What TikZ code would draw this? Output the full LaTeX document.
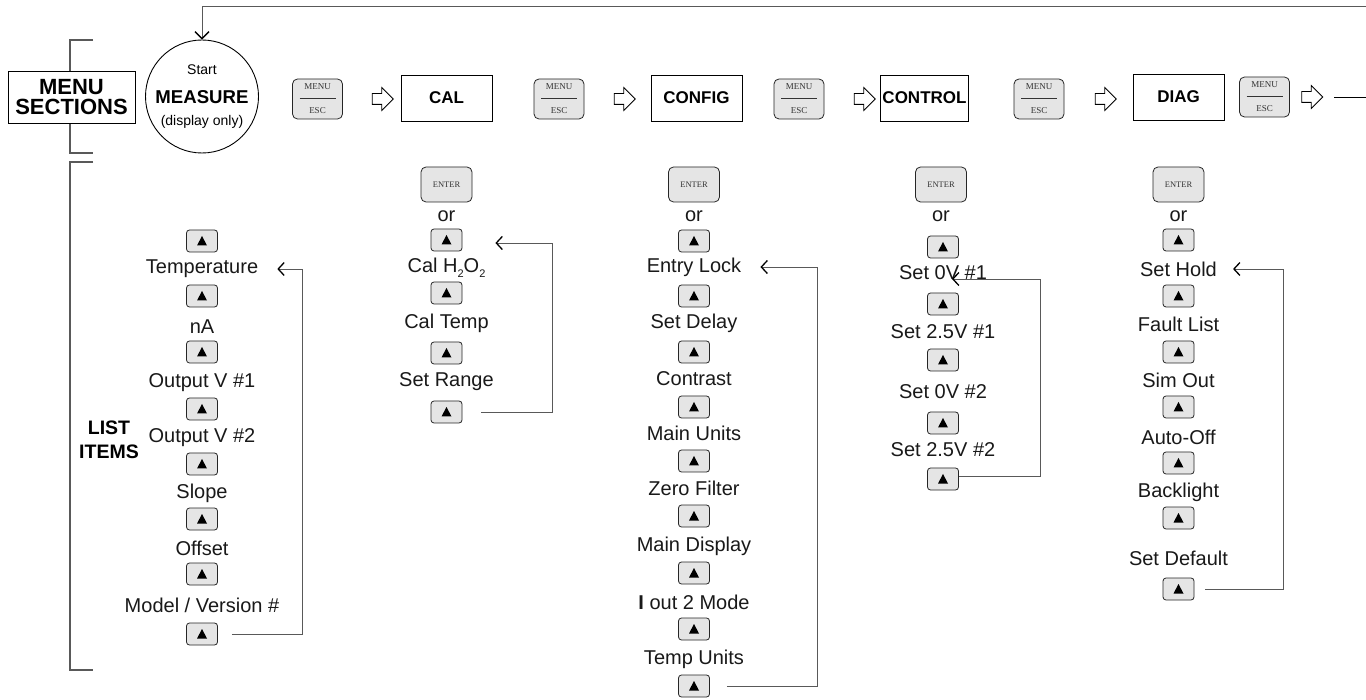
\documentclass[tikz,border=0pt]{standalone}
\usepackage{fontspec}
\setmainfont{Liberation Sans}
\newfontfamily\btnfont{Liberation Serif}
\usetikzlibrary{arrows.meta,shapes.arrows}
\newcommand\myfs[1]{\fontsize{#1}{#1}\selectfont}
\newcommand\mysub[1]{\raisebox{-0.45ex}{\myfs{11}#1}}
\begin{document}
\begin{tikzpicture}[x=1pt,y=-1pt,
  lbl/.style={font=\myfs{20}, text=black!90, inner sep=1pt},
  upb/.style={draw=black!85, fill=black!10, rounded corners=3pt, minimum width=31pt, minimum height=22pt, inner sep=0pt, line width=0.8pt,
    path picture={\fill[black,sharp corners] ([shift={(-5,4.5)}]path picture bounding box.center) -- ++(10,0) -- ++(-5,-9.5) -- cycle;}},
  entb/.style={draw=black!85, fill=black!10, rounded corners=5pt, minimum width=51pt, minimum height=35pt, inner sep=0pt, line width=0.8pt, font=\btnfont\myfs{8.5}, text=black!80},
  meb/.style={draw=black!85, fill=black!10, rounded corners=5pt, minimum width=50pt, minimum height=40pt, inner sep=0pt, line width=0.8pt, font=\btnfont\myfs{9}, text=black!80, align=center,
    path picture={\draw[black!80,line width=0.8pt,sharp corners] ([shift={(-18,-1)}]path picture bounding box.center) -- ([shift={(18,-1)}]path picture bounding box.center);}},
  sect/.style={draw=black, line width=0.9pt, minimum width=91pt, minimum height=46pt, inner sep=0pt, font=\bfseries\myfs{17}},
  harr/.style={single arrow, draw=black, line width=0.8pt, fill=white, inner sep=5pt, minimum height=21pt, single arrow head extend=6pt},
  loopl/.style={draw=black!65, line width=0.9pt},
  tipl/.style={-{Straight Barb[length=6pt,width=13pt,line width=1.3pt,color=black]}},
  brk/.style={draw=black!65, line width=1.2pt}
]
\fill[white] (0,0) rectangle (1366,700);
\useasboundingbox (0,0) rectangle (1366,700);

% brackets
\coordinate (b1a) at (93,40); \coordinate (b1b) at (70,40);
\coordinate (b1c) at (70,153); \coordinate (b1d) at (93,153);
\draw[brk] (b1a) -- (b1b) -- (b1c) -- (b1d);
\coordinate (b2a) at (93,162); \coordinate (b2b) at (70,162);
\coordinate (b2c) at (70,670); \coordinate (b2d) at (93,670);
\draw[brk] (b2a) -- (b2b) -- (b2c) -- (b2d);

\node[draw=black, line width=0.9pt, fill=white, minimum width=127pt, minimum height=52pt, inner sep=0pt, align=center, font=\bfseries\myfs{22}] (msec) at (71.5,97) {MENU\\[-2pt]SECTIONS};
\node[align=center, font=\bfseries\myfs{19.5}, inner sep=1pt] (litems) at (109,440) {LIST\\[4pt]ITEMS};

% measure circle
\node[circle, draw=black, line width=0.9pt, minimum size=113pt, inner sep=0pt] (meas) at (202,96.5) {};
\node[font=\myfs{14}, inner sep=0pt] (mstart) at (202,70) {Start};
\node[font=\bfseries\myfs{18.6}, inner sep=0pt] (mmeas) at (202,97) {MEASURE};
\node[font=\myfs{14}, inner sep=0pt] (mdisp) at (202,122) {(display only)};
\coordinate (topR) at (1366,6);
\draw[loopl, -{Straight Barb[length=7pt,width=14pt,line width=1.3pt,color=black]}] (topR) -| (meas.north);

% top row
\node[meb] (me1) at (317.5,99) {MENU\\[15pt]ESC};
\node[harr] (ar1) at (380,99) {};
\node[sect] (cal) at (446.5,98) {CAL};
\node[meb] (me2) at (559,99) {MENU\\[15pt]ESC};
\node[harr] (ar2) at (622,99) {};
\node[sect] (config) at (696.5,98) {CONFIG};
\node[meb] (me3) at (799,99) {MENU\\[15pt]ESC};
\node[harr] (ar3) at (862,99) {};
\node[sect, minimum width=88pt] (control) at (924.5,98) {CONTROL};
\node[meb] (me4) at (1039,99) {MENU\\[15pt]ESC};
\node[harr] (ar4) at (1103,99) {};
\node[sect] (diag) at (1178.5,97) {DIAG};
\node[meb] (me5) at (1264.5,97) {MENU\\[15pt]ESC};
\node[harr] (ar5) at (1309.5,97) {};
\coordinate (rEnd) at (1366,97);
\draw[black, line width=0.9pt] ([xshift=11pt]ar5.east) -- (rEnd);

% MEASURE list
\node[upb] (mu1) at (202,241) {};
\node[lbl] (mtemp) at (202,269) {Temperature};
\node[upb] (mu2) at (202,296) {};
\node[lbl] (mna) at (202,327) {nA};
\node[upb] (mu3) at (202,352) {};
\node[lbl] (mov1) at (202,383) {Output V \#1};
\node[upb] (mu4) at (202,409) {};
\node[lbl] (mov2) at (202,438) {Output V \#2};
\node[upb] (mu5) at (202,464) {};
\node[lbl] (mslope) at (202,493) {Slope};
\node[upb] (mu6) at (202,519) {};
\node[lbl] (moff) at (202,548) {Offset};
\node[upb] (mu7) at (202,574) {};
\node[lbl] (mmodel) at (202,605) {Model / Version \#};
\node[upb] (mu8) at (202,634) {};
\draw[loopl, tipl] ([xshift=14pt]mu8.east) -- ++(71,0) |- ([xshift=18pt]mtemp.east);

% CAL list
\node[entb] (ce) at (446.5,184.5) {ENTER};
\node[lbl] (cor) at (446.5,216) {or};
\node[upb] (cu1) at (446.5,240) {};
\node[lbl] (ch2o2) at (446.5,268) {Cal H\mysub{2}O\mysub{2}};
\node[upb] (cu2) at (446.5,293) {};
\node[lbl] (ctemp) at (446.5,323) {Cal Temp};
\node[upb] (cu3) at (446.5,353) {};
\node[lbl] (crange) at (446.5,382) {Set Range};
\node[upb] (cu4) at (446.5,412) {};
\draw[loopl, tipl] ([xshift=19pt]cu4.east) -- ++(71,0) |- ([shift={(33,3)}]cu1.east);

% CONFIG list
\node[entb] (fe) at (694,184.5) {ENTER};
\node[lbl] (for) at (694,216) {or};
\node[upb] (fu1) at (694,241) {};
\node[lbl] (fentry) at (694,267) {Entry Lock};
\node[upb] (fu2) at (694,296) {};
\node[lbl] (fdelay) at (694,323) {Set Delay};
\node[upb] (fu3) at (694,352) {};
\node[lbl] (fcontr) at (694,379) {Contrast};
\node[upb] (fu4) at (694,407) {};
\node[lbl] (funits) at (694,433) {Main Units};
\node[upb] (fu5) at (694,461) {};
\node[lbl] (fzero) at (694,488) {Zero Filter};
\node[upb] (fu6) at (694,516) {};
\node[lbl] (fdisp) at (694,546) {Main Display};
\node[upb] (fu7) at (694,573) {};
\node[lbl] (fiout) at (694,602) {{\bfseries I} out 2 Mode};
\node[upb] (fu8) at (694,629) {};
\node[lbl] (ftemp) at (694,659) {Temp Units};
\node[upb] (fu9) at (694,686) {};
\draw[loopl, tipl] ([xshift=17pt]fu9.east) -- ++(91,0) |- ([xshift=18pt]fentry.east);

% CONTROL list
\node[entb] (te) at (941,184.5) {ENTER};
\node[lbl] (tor) at (941,216) {or};
\node[upb] (tu1) at (943,247) {};
\node[lbl] (tset0a) at (943,273) {Set 0V \#1};
\node[upb] (tu2) at (943,304) {};
\node[lbl] (tset2a) at (943,332) {Set 2.5V \#1};
\node[upb] (tu3) at (943,360) {};
\node[lbl] (tset0b) at (943,392) {Set 0V \#2};
\node[upb] (tu4) at (943,423) {};
\node[lbl] (tset2b) at (943,450) {Set 2.5V \#2};
\node[upb] (tu5) at (943,479) {};
\coordinate (ctip) at (952,279);
\draw[loopl, tipl] ([yshift=3pt]tu5.east) -- ++(82,0) |- (ctip);

% DIAG list
\node[entb] (de) at (1178.5,184.5) {ENTER};
\node[lbl] (dor) at (1178.5,216) {or};
\node[upb] (du1) at (1178.5,240) {};
\node[lbl] (dhold) at (1178.5,269) {Set Hold};
\node[upb] (du2) at (1178.5,296) {};
\node[lbl] (dfault) at (1178.5,324) {Fault List};
\node[upb] (du3) at (1178.5,352) {};
\node[lbl] (dsim) at (1178.5,380) {Sim Out};
\node[upb] (du4) at (1178.5,407) {};
\node[lbl] (dauto) at (1178.5,437) {Auto-Off};
\node[upb] (du5) at (1178.5,463) {};
\node[lbl] (dback) at (1178.5,492) {Backlight};
\node[upb] (du6) at (1178.5,518) {};
\node[lbl] (ddef) at (1178.5,558) {Set Default};
\node[upb] (du7) at (1178.5,589) {};
\draw[loopl, tipl] ([xshift=11pt]du7.east) -- ++(78,0) |- ([xshift=15pt]dhold.east);
\end{tikzpicture}
\end{document}
